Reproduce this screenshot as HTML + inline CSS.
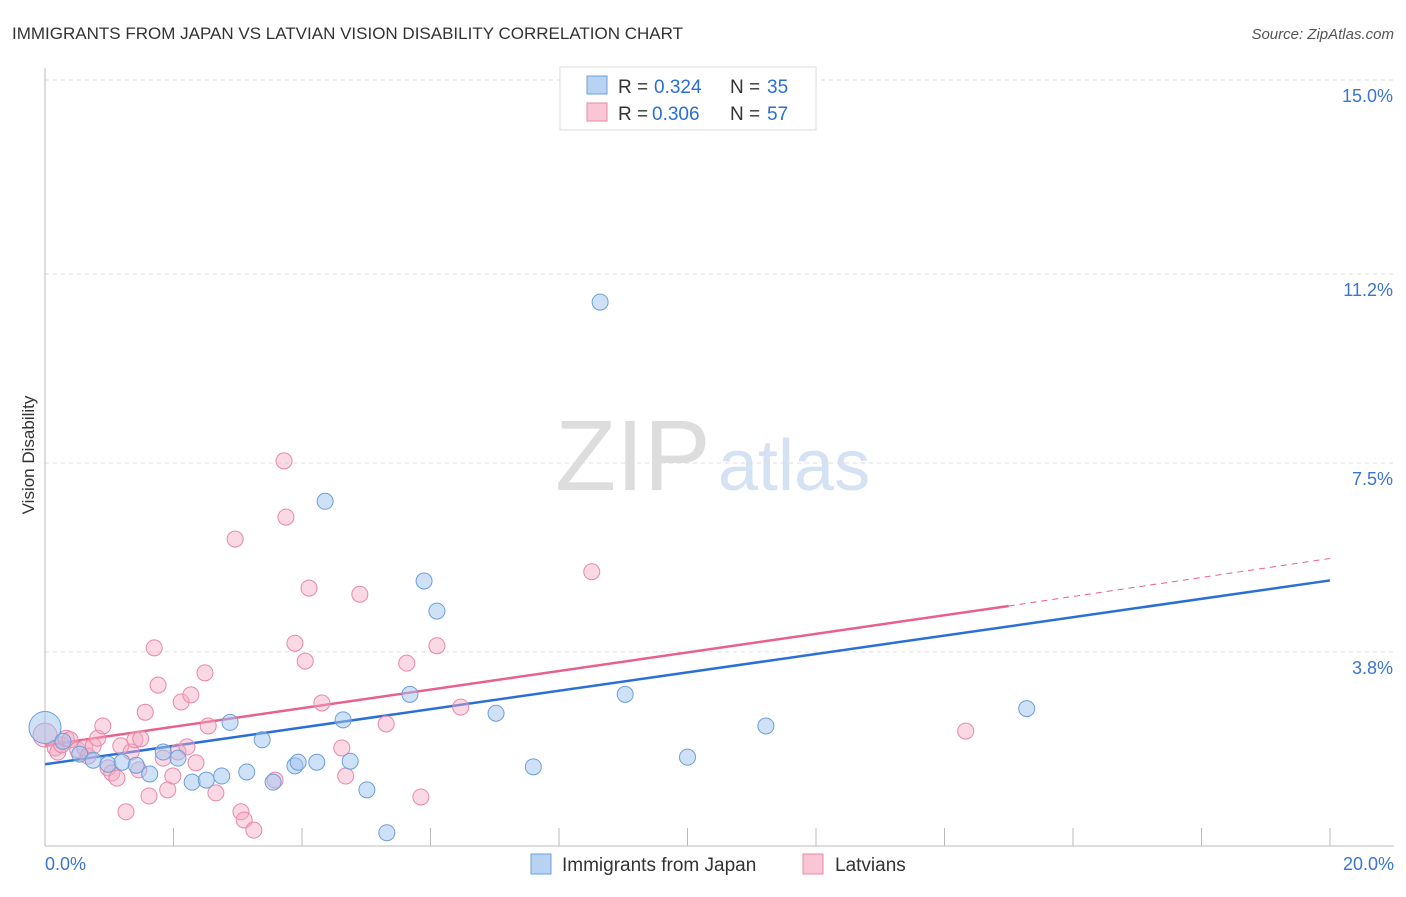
<!DOCTYPE html>
<html><head><meta charset="utf-8"><style>
body{margin:0;background:#fff;font-family:"Liberation Sans",sans-serif;}
svg text{font-family:"Liberation Sans",sans-serif;}
</style></head><body>
<svg width="1406" height="892" xmlns="http://www.w3.org/2000/svg">
<text x="12" y="39" font-size="17" fill="#333">IMMIGRANTS FROM JAPAN VS LATVIAN VISION DISABILITY CORRELATION CHART</text>
<text x="1394" y="39" font-size="15" fill="#555" font-style="italic" text-anchor="end">Source: ZipAtlas.com</text>
<text x="555" y="490" font-size="100" fill="#ddd" font-family="Liberation Serif">ZIP</text>
<text x="718" y="490" font-size="72" fill="#d4e2f4">atlas</text>
<text x="34" y="455" font-size="17" fill="#333" transform="rotate(-90 34 455)" text-anchor="middle">Vision Disability</text>
<g id="grid"></g><g id="axes"></g><g id="lines"></g><g id="pts"></g>
<g>
<rect x="560" y="67" width="256" height="63" fill="#fff" stroke="#ddd"/>
<rect x="587" y="76" width="20" height="18" fill="#b8d2f4" stroke="#6b9fdc"/>
<text x="618" y="93" font-size="19" fill="#333">R =</text>
<text x="654" y="93" font-size="19" fill="#2a6fd6">0.324</text>
<text x="730" y="93" font-size="19" fill="#333">N =</text>
<text x="767" y="93" font-size="19" fill="#2a6fd6">35</text>
<rect x="587" y="103" width="20" height="18" fill="#f9c6d6" stroke="#e888a8"/>
<text x="618" y="120" font-size="19" fill="#333">R =</text>
<text x="652" y="120" font-size="19" fill="#2a6fd6">0.306</text>
<text x="730" y="120" font-size="19" fill="#333">N =</text>
<text x="767" y="120" font-size="19" fill="#2a6fd6">57</text>
</g>
<g>
<rect x="531" y="854" width="20" height="20" fill="#b8d2f4" stroke="#6b9fdc"/>
<text x="562" y="871" font-size="19" fill="#333">Immigrants from Japan</text>
<rect x="803" y="854" width="20" height="20" fill="#f9c6d6" stroke="#e888a8"/>
<text x="835" y="871" font-size="19" fill="#333">Latvians</text>
</g>
</svg>
<script>
const yTicks=[3.8,7.5,11.2,15.0];
const xTickVals=[0,2,4,6,8,10,12,14,16,18,20];
const japanX=[0,0.28,0.54,0.75,0.98,1.2,1.42,1.63,1.84,2.07,2.29,2.51,2.75,2.88,3.14,3.38,3.55,3.89,3.94,4.23,4.36,4.64,4.75,5.01,5.32,5.68,5.9,6.1,7.02,7.6,8.64,9.03,10.0,11.22,15.28];
const japanY=[2.32,2.05,1.8,1.68,1.6,1.64,1.58,1.41,1.84,1.72,1.25,1.29,1.37,2.42,1.45,2.08,1.25,1.57,1.64,1.64,6.75,2.47,1.66,1.10,0.26,2.97,5.19,4.6,2.6,1.55,10.65,2.97,1.74,2.35,2.69];
const latX=[0,0.16,0.20,0.26,0.33,0.39,0.51,0.62,0.67,0.75,0.82,0.90,0.98,1.04,1.12,1.18,1.26,1.34,1.40,1.46,1.49,1.56,1.62,1.70,1.76,1.84,1.91,1.99,2.07,2.12,2.21,2.27,2.35,2.49,2.54,2.66,2.96,3.05,3.10,3.25,3.58,3.72,3.75,3.89,4.05,4.11,4.31,4.62,4.68,4.90,5.31,5.63,5.85,6.10,6.47,8.51,14.33];
const latY=[2.17,1.92,1.84,1.98,2.11,2.08,1.88,1.92,1.76,1.96,2.11,2.35,1.53,1.43,1.33,1.96,0.67,1.84,2.08,1.49,2.10,2.62,0.98,3.88,3.15,1.72,1.10,1.37,1.84,2.82,1.94,2.96,1.63,3.39,2.35,1.04,6.01,0.67,0.51,0.31,1.29,7.54,6.44,3.97,3.62,5.05,2.80,1.92,1.37,4.93,2.39,3.58,0.96,3.92,2.72,5.37,2.25];
const japanTrend=[1.6,5.2];
const latTrend=[1.97,4.7,5.63];
const X0=45,X1=1330,Y0=846,PXPERPCT=51.07;
const sx=v=>X0+(X1-X0)*v/20, sy=v=>Y0-v*PXPERPCT;
const NS="http://www.w3.org/2000/svg";
function mk(tag,attrs,parent){const e=document.createElementNS(NS,tag);for(const k in attrs)e.setAttribute(k,attrs[k]);document.getElementById(parent).appendChild(e);return e;}
yTicks.forEach(t=>{
 const l=mk('line',{x1:X0,x2:1394,y1:sy(t),y2:sy(t),stroke:'#ddd','stroke-dasharray':'4,4'},'grid');
 
 
 const tx=mk('text',{x:1393,y:sy(t)+22,'font-size':18,fill:'#3a75d0','text-anchor':'end'},'grid');
 tx.textContent=t.toFixed(1)+'%';
 
 
});
const ax=mk('line',{x1:X0,x2:1394,y1:Y0,y2:Y0,stroke:'#bbb'},'axes');


const ay=mk('line',{x1:X0,x2:X0,y1:68,y2:Y0,stroke:'#bbb'},'axes');


xTickVals.forEach(t=>{
 const l=mk('line',{x1:sx(t),x2:sx(t),y1:828,y2:Y0,stroke:'#bbb'},'axes');
 
 
});
[[0,'0.0%','start',45],[20,'20.0%','end',1394]].forEach(a=>{
 const tx=mk('text',{x:a[3],y:870,'font-size':18,fill:'#3a75d0','text-anchor':a[2]},'axes');
 tx.textContent=a[1];
 
 
});
const jl=mk('line',{x1:sx(0),y1:sy(japanTrend[0]),x2:sx(20),y2:sy(japanTrend[1]),stroke:'#2a6fd6','stroke-width':2.5},'lines');


const ll=mk('line',{x1:sx(0),y1:sy(latTrend[0]),x2:sx(15),y2:sy(latTrend[1]),stroke:'#e8608e','stroke-width':2.5},'lines');


const ld=mk('line',{x1:sx(15),y1:sy(latTrend[1]),x2:sx(20),y2:sy(latTrend[2]),stroke:'#e8608e','stroke-width':1,'stroke-dasharray':'6,5'},'lines');


latX.forEach((x,i)=>{
 const c=mk('circle',{cx:sx(x),cy:sy(latY[i]),r:i===0?12:8,fill:'rgba(245,170,195,0.45)',stroke:'#e888a8','stroke-width':1},'pts');
 
 
});
japanX.forEach((x,i)=>{
 const c=mk('circle',{cx:sx(x),cy:sy(japanY[i]),r:i===0?16:8,fill:'rgba(160,195,240,0.5)',stroke:'#6b9fdc','stroke-width':1},'pts');
 
 
});
</script>
</body></html>
